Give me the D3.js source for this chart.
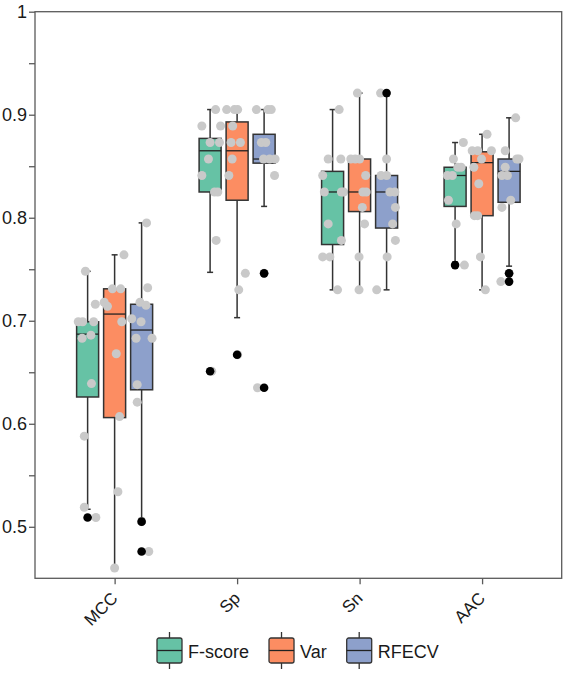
<!DOCTYPE html>
<html>
<head>
<meta charset="utf-8">
<script src="https://cdn.jsdelivr.net/npm/d3@7"></script>
<style>
  body { margin: 0; background: #fff; }
  text { font-family: "Liberation Sans", Arial, sans-serif; fill: #1a1a1a; }
</style>
</head>
<body>
<div id="chart"></div>
<script>
// categories and series
const categories = ["MCC", "Sp", "Sn", "AAC"];
const methods = ["F-score", "Var", "RFECV"];
const colors = ["#66c2a5", "#fc8d62", "#8da0cb"];
const yTicks = [0.5, 0.6, 0.7, 0.8, 0.9, 1];
const yMinorTicks = [0.55, 0.65, 0.75, 0.85, 0.95];

// box statistics, rows = categories, columns = methods
const q1 = [[0.626, 0.606, 0.633], [0.825, 0.817, 0.853], [0.774, 0.806, 0.790], [0.811, 0.802, 0.815]];
const median = [[0.687, 0.7065, 0.691], [0.865, 0.865, 0.857], [0.825, 0.825, 0.825], [0.841, 0.8535, 0.845]];
const q3 = [[0.699, 0.731, 0.716], [0.877, 0.893, 0.881], [0.845, 0.857, 0.841], [0.849, 0.864, 0.857]];
const whiskerLow = [[0.517, 0.46, 0.508], [0.747, 0.703, 0.811], [0.730, 0.730, 0.730], [0.757, 0.730, 0.753]];
const whiskerHigh = [[0.748, 0.764, 0.795], [0.905, 0.905, 0.905], [0.905, 0.921, 0.918], [0.873, 0.881, 0.897]];
const outliers = [
  [[0.509], [], [0.505, 0.476]],
  [[0.651], [0.667], [0.746, 0.635]],
  [[], [], [0.921]],
  [[0.754], [], [0.746, 0.738]]
];

// individual fold scores (grey dots)
const pointValues = [
  [[0.748, 0.716, 0.699, 0.699, 0.699, 0.686, 0.683, 0.639, 0.588, 0.519, 0.509],
   [0.764, 0.731, 0.731, 0.718, 0.714, 0.699, 0.668, 0.607, 0.534, 0.46],
   [0.795, 0.732, 0.718, 0.715, 0.702, 0.699, 0.683, 0.683, 0.638, 0.621, 0.505, 0.476]],
  [[0.905, 0.889, 0.889, 0.873, 0.873, 0.857, 0.841, 0.825, 0.825, 0.778, 0.651],
   [0.905, 0.905, 0.905, 0.889, 0.873, 0.873, 0.857, 0.841, 0.746, 0.730, 0.667],
   [0.905, 0.905, 0.905, 0.873, 0.873, 0.857, 0.857, 0.857, 0.841, 0.746, 0.635]],
  [[0.905, 0.857, 0.857, 0.841, 0.825, 0.825, 0.825, 0.794, 0.778, 0.762, 0.762, 0.730],
   [0.921, 0.857, 0.857, 0.857, 0.841, 0.825, 0.825, 0.810, 0.794, 0.762, 0.730],
   [0.921, 0.857, 0.841, 0.841, 0.825, 0.825, 0.810, 0.794, 0.778, 0.762, 0.730]],
  [[0.873, 0.857, 0.849, 0.849, 0.841, 0.841, 0.817, 0.794, 0.754],
   [0.881, 0.865, 0.865, 0.865, 0.857, 0.849, 0.833, 0.802, 0.802, 0.762, 0.730],
   [0.897, 0.865, 0.857, 0.857, 0.849, 0.841, 0.841, 0.817, 0.810, 0.746, 0.738]]
];
// horizontal jitter of each dot, -1..1 of half a box width
const pointJitter = [
  [[-0.2, 0.7, -0.85, -0.45, 0.55, 0.3, -0.5, 0.35, -0.3, -0.3, 0.75],
   [0.85, -0.2, 0.55, -0.95, -0.65, 0.65, 0.15, 0.45, 0.3, 0],
   [0.45, 0.55, -0.15, 0.4, -0.9, -0.05, -0.5, 0.95, -0.4, -0.4, 0, 0.65]],
  [[0.5, -0.75, 0.95, 0, 0.85, -0.15, -0.75, 0.4, 0.7, 0.55, 0.15],
   [-0.95, -0.25, 0.05, -0.4, -0.55, 0.3, -0.45, -0.75, 0.75, 0.15, 0.05],
   [-0.7, 0.35, 0.65, -0.25, 0.15, -0.05, 0.5, 1.0, 0.95, 0, -0.6]],
  [[0.6, -0.4, 0.75, -0.9, -0.75, 0.8, 1.0, -0.4, 0.8, -0.9, -0.25, 0.45],
   [-0.2, -0.8, -0.4, 0, 0.55, 0.3, 0.6, 0.25, 0.45, -0.05, -0.05],
   [-0.55, 0, -0.5, 0, 0.3, 0.75, 0.8, 0.55, 0.8, 0.05, -0.9]],
  [[0.75, -0.15, 0.25, 0.55, -0.7, -0.25, -0.6, 0.1, 0.85],
   [0.45, -0.9, -0.4, 0.85, -0.05, -0.75, -0.3, -0.7, -0.4, -0.15, 0.3],
   [0.6, -0.35, 0.7, 0.9, -0.35, -0.65, -0.15, 0.15, -0.65, 0, -0.75]]
];

const W = 567, H = 674;
const plotLeft = 35, plotRight = 561.7, plotTop = 11.7, plotBottom = 578.3;
const boxW = 22;

const svg = d3.select("#chart").append("svg")
  .attr("width", W).attr("height", H);

const x = d3.scalePoint().domain(categories).range([plotLeft, plotRight]).padding(0.65);
const xm = d3.scalePoint().domain(methods).range([-27, 27]);
const y = d3.scaleLinear().domain([0.45, 1]).range([plotBottom, plotTop]);
const jit = d3.scaleLinear().domain([-1, 1]).range([-boxW / 2, boxW / 2]);

// frame
svg.append("rect")
  .attr("x", plotLeft).attr("y", plotTop)
  .attr("width", plotRight - plotLeft).attr("height", plotBottom - plotTop)
  .attr("fill", "none").attr("stroke", "#5a5a5a").attr("stroke-width", 1.3);

// y axis
const yAxis = d3.axisLeft(y).tickValues(yTicks).tickSize(6).tickPadding(2)
  .tickFormat(d => d === 1 ? "1" : d3.format(".1f")(d));
const gy = svg.append("g").attr("transform", `translate(${plotLeft},0)`).call(yAxis);
gy.select(".domain").remove();
gy.selectAll("line").attr("stroke", "#5a5a5a").attr("stroke-width", 1.3);
gy.selectAll("text").attr("font-size", 18).attr("fill", "#1a1a1a")
  .style("font-family", "'Liberation Sans', Arial, sans-serif");
const gyMinor = svg.append("g").attr("transform", `translate(${plotLeft},0)`)
  .call(d3.axisLeft(y).tickValues(yMinorTicks).tickSize(6).tickFormat(""));
gyMinor.select(".domain").remove();
gyMinor.selectAll("line").attr("stroke", "#5a5a5a").attr("stroke-width", 1.3);

// x axis
const gx = svg.append("g").attr("transform", `translate(0,${plotBottom})`)
  .call(d3.axisBottom(x).tickSize(6).tickFormat(""));
gx.select(".domain").remove();
gx.selectAll("line").attr("stroke", "#5a5a5a").attr("stroke-width", 1.3);

svg.append("g").selectAll("text")
  .data(categories)
  .join("text")
  .attr("transform", d => `translate(${x(d) + 4},${plotBottom + 21}) rotate(-45)`)
  .attr("text-anchor", "end")
  .attr("font-size", 17)
  .text(d => d);

// boxes
const boxes = [];
categories.forEach((c, i) => {
  methods.forEach((m, j) => {
    boxes.push({
      c, m, i, j,
      cx: x(c) + xm(m),
      q1: q1[i][j], med: median[i][j], q3: q3[i][j],
      lo: whiskerLow[i][j], hi: whiskerHigh[i][j],
      out: outliers[i][j],
      pts: pointValues[i][j].map((v, k) => ({ v, jt: pointJitter[i][j][k] }))
    });
  });
});

const g = svg.append("g").selectAll("g").data(boxes).join("g");

g.append("line")
  .attr("x1", d => d.cx).attr("x2", d => d.cx)
  .attr("y1", d => y(d.hi)).attr("y2", d => y(d.lo))
  .attr("stroke", "#333").attr("stroke-width", 1.5);
g.append("line")
  .attr("x1", d => d.cx - 3).attr("x2", d => d.cx + 3)
  .attr("y1", d => y(d.hi)).attr("y2", d => y(d.hi))
  .attr("stroke", "#333").attr("stroke-width", 1.5);
g.append("line")
  .attr("x1", d => d.cx - 3).attr("x2", d => d.cx + 3)
  .attr("y1", d => y(d.lo)).attr("y2", d => y(d.lo))
  .attr("stroke", "#333").attr("stroke-width", 1.5);
g.append("rect")
  .attr("x", d => d.cx - boxW / 2).attr("width", boxW)
  .attr("y", d => y(d.q3)).attr("height", d => y(d.q1) - y(d.q3))
  .attr("fill", d => colors[d.j])
  .attr("stroke", "#333").attr("stroke-width", 1.5);
g.append("line")
  .attr("x1", d => d.cx - boxW / 2).attr("x2", d => d.cx + boxW / 2)
  .attr("y1", d => y(d.med)).attr("y2", d => y(d.med))
  .attr("stroke", "#222").attr("stroke-width", 1.3);

// grey dots
g.selectAll("circle.pt")
  .data(d => d.pts.map(p => ({ ...p, cx: d.cx })))
  .join("circle")
  .attr("class", "pt")
  .attr("cx", p => p.cx + jit(p.jt))
  .attr("cy", p => y(p.v))
  .attr("r", 4.5)
  .attr("fill", "#c9c9c9");

// outliers
g.selectAll("circle.out")
  .data(d => d.out.map(v => ({ v, cx: d.cx })))
  .join("circle")
  .attr("class", "out")
  .attr("cx", p => p.cx)
  .attr("cy", p => y(p.v))
  .attr("r", 4.3)
  .attr("fill", "#000");

// legend
const legend = svg.append("g").attr("transform", "translate(157,638)");
let lx = 0;
methods.forEach((m, j) => {
  const item = legend.append("g").attr("transform", `translate(${lx},0)`);
  item.append("line").attr("x1", 12.5).attr("x2", 12.5).attr("y1", -6).attr("y2", 31)
    .attr("stroke", "#333").attr("stroke-width", 1.3);
  item.append("rect").attr("width", 25).attr("height", 25).attr("rx", 2)
    .attr("fill", colors[j]).attr("stroke", "#333").attr("stroke-width", 1.3);
  item.append("line").attr("x1", 0).attr("x2", 25).attr("y1", 12.5).attr("y2", 12.5)
    .attr("stroke", "#222").attr("stroke-width", 1.3);
  const t = item.append("text").attr("x", 31).attr("y", 19.5)
    .attr("font-size", 18).text(m);
  lx += 31 + t.node().getComputedTextLength() + 20;
});
</script>
</body>
</html>
